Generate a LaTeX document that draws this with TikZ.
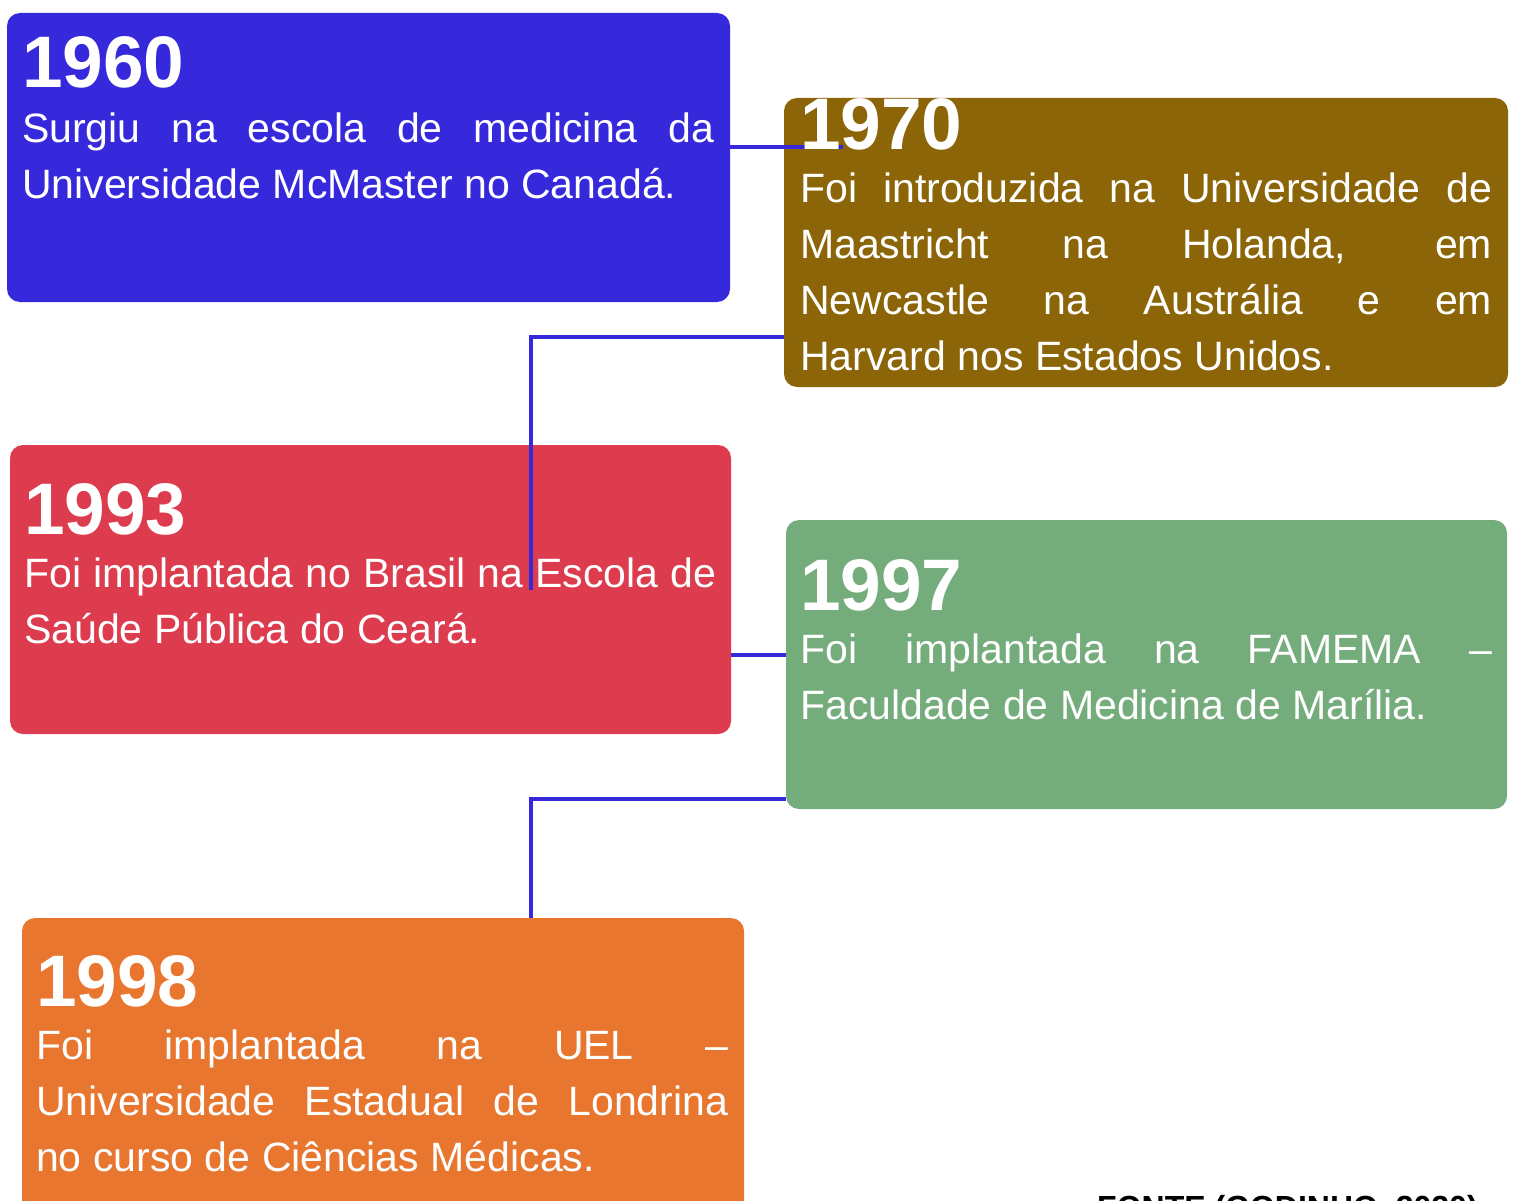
\documentclass[tikz,border=0pt]{standalone}
\usepackage{fontspec}
\setmainfont{Liberation Sans}
\definecolor{cblue}{RGB}{54,41,220}
\definecolor{cbrown}{RGB}{139,101,8}
\definecolor{cred}{RGB}{220,60,78}
\definecolor{cgreen}{RGB}{116,172,124}
\definecolor{corange}{RGB}{232,118,47}
\tikzset{
  box/.style={draw=none, rounded corners=13pt, inner sep=0pt, outer sep=0pt,
    minimum width=723pt, minimum height=289pt, anchor=north west},
  year/.style={anchor=base west, inner sep=0pt, text=white,
    font=\fontsize{73}{73}\selectfont\bfseries},
  body/.style={anchor=base west, inner sep=0pt, text=white,
    font=\fontsize{41}{56}\selectfont},
  conn/.style={draw=cblue, line width=4pt}
}
\newcommand{\bodytext}[1]{\parbox[t]{692pt}{\tolerance=10000\hbadness=10000\spaceskip=0.28em plus 10em minus 0.05em #1}}
\begin{document}
\begin{tikzpicture}[x=1pt,y=-1pt]
\useasboundingbox (0,0) rectangle (1518,1201);
\clip (0,0) rectangle (1518,1201);
% boxes
\node[box, fill=cblue] (b1960) at (7,13) {};
\node[box, fill=cbrown, minimum width=724pt] (b1970) at (784,98) {};
\node[box, fill=cred, minimum width=721pt] (b1993) at (10,445) {};
\node[box, fill=cgreen, minimum width=721pt] (b1997) at (786,520) {};
\node[box, fill=corange, minimum width=722pt, minimum height=320pt] (b1998) at (22,918) {};
% connectors
\coordinate (j1) at (843,147);
\coordinate (j2) at (531,590);
\draw[conn] (b1960.east |- j1) -- (j1);
\draw[conn] (b1970.west |- 0,337) -| (j2);
\draw[conn] (b1993.east |- 0,655) -- (b1997.west |- 0,655);
\draw[conn] (b1997.west |- 0,799) -| (b1998.north -| j2);
% texts
\node[year] (y1960) at (22,88) {1960};
\node[body] (t1960) at (22,143) {\bodytext{Surgiu na escola de medicina da\linebreak Universidade McMaster no Canadá.}};
\node[year] (y1970) at (800,150) {1970};
\node[body] (t1970) at (800,203) {\bodytext{Foi introduzida na Universidade de\linebreak Maastricht na Holanda, em\linebreak Newcastle na Austrália e em\linebreak Harvard nos Estados Unidos.}};
\node[year] (y1993) at (24,534) {1993};
\node[body] (t1993) at (24,587) {\bodytext{Foi implantada no Brasil na Escola de\linebreak Saúde Pública do Ceará.}};
\node[year] (y1997) at (800,610) {1997};
\node[body] (t1997) at (800,663) {\bodytext{Foi implantada na FAMEMA –\linebreak Faculdade de Medicina de Marília.}};
\node[year] (y1998) at (36,1006) {1998};
\node[body] (t1998) at (36,1059) {\bodytext{Foi implantada na UEL –\linebreak Universidade Estadual de Londrina\linebreak no curso de Ciências Médicas.}};
\node[anchor=base west, inner sep=0pt, font=\fontsize{32}{32}\selectfont\bfseries] (fonte) at (1097,1218) {FONTE (GODINHO, 2020)};
\end{tikzpicture}
\end{document}
